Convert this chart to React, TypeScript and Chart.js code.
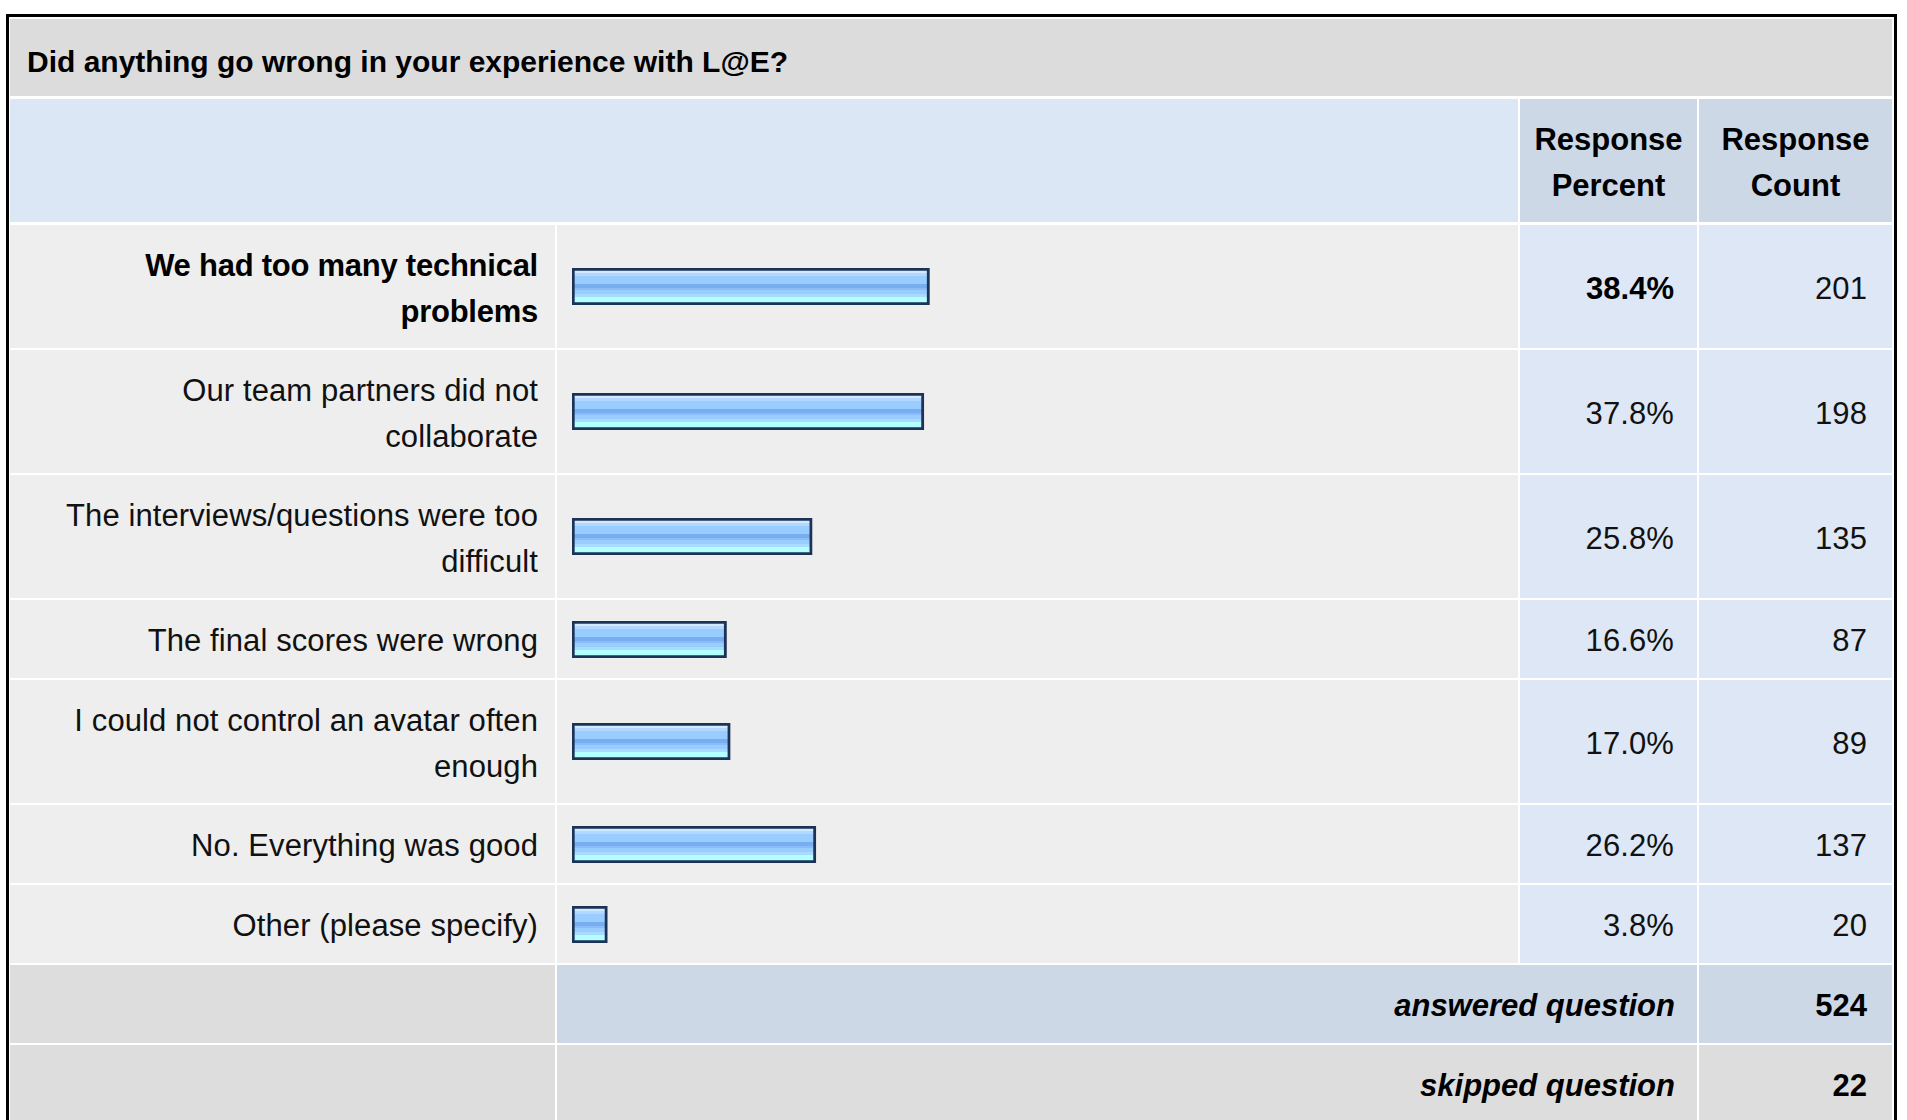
import React, { useEffect, useRef } from "react";
import { Chart, registerables } from "chart.js";

Chart.register(...registerables);

const questionTitle = "Did anything go wrong in your experience with L@E?";
const headerPercent = ["Response", "Percent"];
const headerCount = ["Response", "Count"];
const categories: string[][] = [
  ["We had too many technical", "problems"],
  ["Our team partners did not", "collaborate"],
  ["The interviews/questions were too", "difficult"],
  ["The final scores were wrong"],
  ["I could not control an avatar often", "enough"],
  ["No. Everything was good"],
  ["Other (please specify)"],
];
const responsePercent = [38.4, 37.8, 25.8, 16.6, 17.0, 26.2, 3.8];
const responseCount = [201, 198, 135, 87, 89, 137, 20];
const answeredQuestion = 524;
const skippedQuestion = 22;

const FONT = '"Liberation Sans", Arial, Helvetica, sans-serif';
const FS = 31;
const LH = 46;

const COL = {
  labelX: 10, labelW: 545,
  barX: 557, barW: 961,
  pctX: 1520, pctW: 177,
  cntX: 1699, cntW: 193,
};

function rowHeight(lines: number) {
  return lines > 1 ? 123 : 78;
}

function BarCell({ label, value }: { label: string; value: number }) {
  const ref = useRef<HTMLCanvasElement | null>(null);
  useEffect(() => {
    if (!ref.current) return;
    const chart = new Chart(ref.current, {
      type: "bar",
      data: {
        labels: [label],
        datasets: [
          {
            data: [value],
            borderColor: "#1c3358",
            borderWidth: 3,
            borderSkipped: false,
            barPercentage: 1,
            categoryPercentage: 1,
            backgroundColor: (ctx: any) => {
              const c = ctx.chart;
              const area = c.chartArea;
              if (!area) return "#99ccff";
              const top = area.top + 3;
              const bottom = area.bottom - 3;
              const g = c.ctx.createLinearGradient(0, top, 0, bottom);
              const stops: [number, string][] = [
                [0, "#d2e9ff"], [0.065, "#d2e9ff"],
                [0.065, "#b3d7ff"], [0.15, "#b3d7ff"],
                [0.15, "#99ccff"], [0.41, "#99ccff"],
                [0.41, "#78adef"], [0.54, "#78adef"],
                [0.54, "#89bdf7"], [0.61, "#89bdf7"],
                [0.61, "#99ccff"], [0.74, "#99ccff"],
                [0.74, "#a9dbff"], [0.85, "#a9dbff"],
                [0.85, "#b3ffff"], [1, "#b3ffff"],
              ];
              stops.forEach(([o, col]) => g.addColorStop(o, col));
              return g;
            },
          } as any,
        ],
      },
      options: {
        indexAxis: "y",
        animation: false,
        responsive: true,
        maintainAspectRatio: false,
        layout: { padding: { left: 15, right: 15, top: 0, bottom: 0 } },
        scales: {
          x: { type: "linear", min: 0, max: 100, display: false },
          y: { type: "category", display: false, offset: true },
        },
        plugins: { legend: { display: false }, tooltip: { enabled: false } },
        events: [],
      },
    });
    return () => chart.destroy();
  }, [label, value]);
  return (
    <div style={{ position: "relative", width: COL.barW, height: 37 }}>
      <canvas ref={ref} />
    </div>
  );
}

function Cell({
  x, y, w, h, bg, children, align = "right", pr = 0, pl = 0, shift = 2, style = {},
}: any) {
  return (
    <div
      style={{
        position: "absolute",
        left: x,
        top: y,
        width: w,
        height: h,
        background: bg,
        boxSizing: "border-box",
        ...style,
      }}
    >
      <div
        style={{
          position: "absolute",
          left: 0,
          top: shift,
          width: "100%",
          height: "100%",
          display: "flex",
          flexDirection: "column",
          justifyContent: "center",
          alignItems: align === "right" ? "flex-end" : align === "center" ? "center" : "flex-start",
          textAlign: align,
          paddingRight: pr,
          paddingLeft: pl,
          boxSizing: "border-box",
        }}
      >
        {children}
      </div>
    </div>
  );
}

const regular = { letterSpacing: "0.1px", color: "#111" };
const boldText = { letterSpacing: "0px", color: "#000", fontWeight: "bold" as const };

export default function App() {
  const rows: { y: number; h: number }[] = [];
  let y = 225;
  categories.forEach((c) => {
    const h = rowHeight(c.length);
    rows.push({ y, h });
    y += h + 2;
  });
  const answeredY = y;
  const skippedY = answeredY + 78 + 2;
  const maxIdx = responsePercent.indexOf(Math.max(...responsePercent));

  return (
    <div
      style={{
        position: "absolute",
        left: 0,
        top: 0,
        width: 1907,
        height: 1120,
        overflow: "hidden",
        background: "#ffffff",
        fontFamily: FONT,
        fontSize: FS,
        lineHeight: `${LH}px`,
        color: "#111",
      }}
    >
      <div
        style={{
          position: "absolute",
          left: 6,
          top: 14,
          width: 1891,
          height: 1200,
          border: "3px solid #000",
          boxSizing: "border-box",
        }}
      />
      <Cell x={10} y={19} w={1882} h={77} bg="#dcdcdc" align="left" pl={17} shift={4}>
        <div style={{ ...boldText, fontSize: 30 }}>{questionTitle}</div>
      </Cell>
      <Cell x={10} y={99} w={1508} h={123} bg="#dce7f5" />
      <Cell x={COL.pctX} y={99} w={COL.pctW} h={123} bg="#cdd8e6" align="center" shift={2}>
        {headerPercent.map((t) => (
          <div key={t} style={boldText}>{t}</div>
        ))}
      </Cell>
      <Cell x={COL.cntX} y={99} w={COL.cntW} h={123} bg="#cdd8e6" align="center" shift={2}>
        {headerCount.map((t) => (
          <div key={t} style={boldText}>{t}</div>
        ))}
      </Cell>

      {categories.map((lines, i) => {
        const r = rows[i];
        const bold = i === maxIdx;
        const ts = bold ? { ...boldText, letterSpacing: "-0.25px" } : regular;
        return (
          <React.Fragment key={i}>
            <Cell x={COL.labelX} y={r.y} w={COL.labelW} h={r.h} bg="#eeeeee" pr={17}>
              {lines.map((t, k) => (
                <div key={k} style={{ ...ts, whiteSpace: "nowrap" }}>
                  {t}
                </div>
              ))}
            </Cell>
            <Cell x={COL.barX} y={r.y} w={COL.barW} h={r.h} bg="#eeeeee" align="left" shift={0}>
              <BarCell label={lines.join(" ")} value={responsePercent[i]} />
            </Cell>
            <Cell x={COL.pctX} y={r.y} w={COL.pctW} h={r.h} bg="#dde7f5" pr={23}>
              <div style={bold ? boldText : regular}>
                {responsePercent[i].toFixed(1)}%
              </div>
            </Cell>
            <Cell x={COL.cntX} y={r.y} w={COL.cntW} h={r.h} bg="#dde7f5" pr={25}>
              <div style={regular}>{responseCount[i]}</div>
            </Cell>
          </React.Fragment>
        );
      })}

      <Cell x={COL.labelX} y={answeredY} w={COL.labelW} h={78} bg="#dddddd" />
      <Cell x={COL.barX} y={answeredY} w={COL.pctX + COL.pctW - COL.barX} h={78} bg="#cdd8e6" pr={22}>
        <div style={{ ...boldText, fontStyle: "italic" }}>answered question</div>
      </Cell>
      <Cell x={COL.cntX} y={answeredY} w={COL.cntW} h={78} bg="#cdd8e6" pr={25}>
        <div style={boldText}>{answeredQuestion}</div>
      </Cell>

      <Cell x={COL.labelX} y={skippedY} w={COL.labelW} h={78} bg="#dddddd" />
      <Cell x={COL.barX} y={skippedY} w={COL.pctX + COL.pctW - COL.barX} h={78} bg="#dddddd" pr={22}>
        <div style={{ ...boldText, fontStyle: "italic" }}>skipped question</div>
      </Cell>
      <Cell x={COL.cntX} y={skippedY} w={COL.cntW} h={78} bg="#dddddd" pr={25}>
        <div style={boldText}>{skippedQuestion}</div>
      </Cell>
    </div>
  );
}
